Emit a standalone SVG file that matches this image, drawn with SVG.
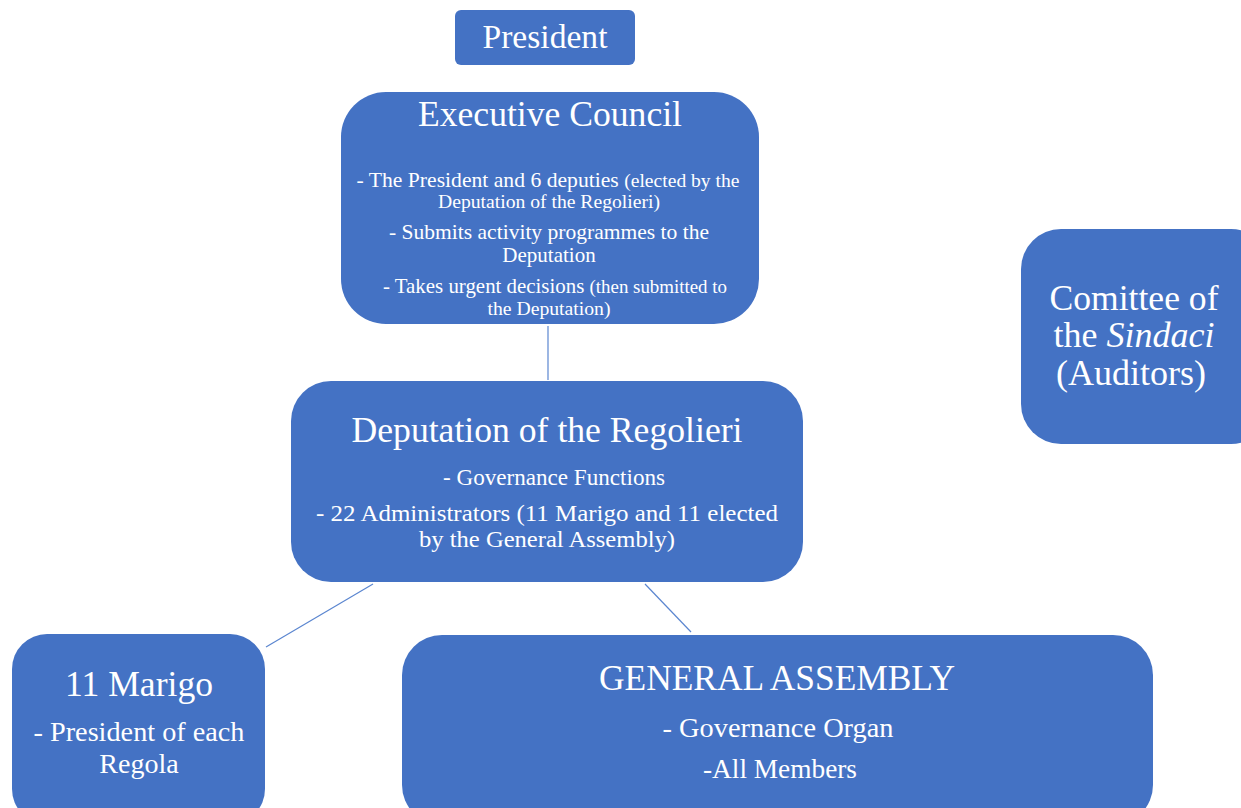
<svg xmlns="http://www.w3.org/2000/svg" width="1241" height="808" viewBox="0 0 1241 808">
<style>
.box{fill:#4472C4;}
text{font-family:"Liberation Serif","Times New Roman",serif;fill:#fff;text-anchor:middle;}
.t{font-size:36px;}
.s{font-size:21px;}
.x{font-size:19px;}
.m{font-size:24px;}
.l{font-size:28px;}
.c{stroke:#5B86D0;stroke-width:1.2;fill:none;}
</style>
<rect width="1241" height="808" fill="#fff"/>
<g id="connectors">
<line class="c" x1="548" y1="326" x2="548" y2="380"/>
<line class="c" x1="373" y1="584" x2="266" y2="647"/>
<line class="c" x1="645" y1="584" x2="691" y2="632"/>
</g>
<g id="president">
<rect class="box" x="455" y="10" width="180" height="55" rx="6"/>
<text x="545" y="48" style="font-size:33px" textLength="125" lengthAdjust="spacingAndGlyphs">President</text>
</g>
<g id="executive-council">
<rect class="box" x="341" y="92" width="418" height="232" rx="45"/>
<text class="t" x="550" y="126" textLength="264" lengthAdjust="spacingAndGlyphs">Executive Council</text>
<text class="s" x="548" y="187" textLength="383" lengthAdjust="spacingAndGlyphs">- The President and 6 deputies <tspan class="x">(elected by the</tspan></text>
<text class="x" x="549" y="208" textLength="222" lengthAdjust="spacingAndGlyphs">Deputation of the Regolieri)</text>
<text class="s" x="549" y="239" textLength="320" lengthAdjust="spacingAndGlyphs">- Submits activity  programmes to the</text>
<text class="s" x="549" y="262">Deputation</text>
<text class="s" x="555" y="293" textLength="344" lengthAdjust="spacingAndGlyphs">- Takes urgent decisions <tspan class="x">(then submitted to</tspan></text>
<text class="x" x="549" y="315" textLength="123" lengthAdjust="spacingAndGlyphs">the Deputation)</text>
</g>
<g id="deputation">
<rect class="box" x="291" y="381" width="512" height="201" rx="40"/>
<text class="t" x="547" y="442" textLength="391" lengthAdjust="spacingAndGlyphs">Deputation of the Regolieri</text>
<text class="m" x="554" y="485" textLength="222" lengthAdjust="spacingAndGlyphs">- Governance  Functions</text>
<text class="m" x="547" y="521" textLength="462" lengthAdjust="spacingAndGlyphs">- 22 Administrators  (11 Marigo and 11 elected</text>
<text class="m" x="547" y="547" textLength="256" lengthAdjust="spacingAndGlyphs">by  the  General Assembly)</text>
</g>
<g id="marigo">
<rect class="box" x="12" y="634" width="253" height="190" rx="35"/>
<text class="t" x="139" y="696" textLength="148" lengthAdjust="spacingAndGlyphs">11 Marigo</text>
<text class="l" x="139" y="741" textLength="211" lengthAdjust="spacingAndGlyphs">- President  of each</text>
<text class="l" x="139" y="773">Regola</text>
</g>
<g id="general-assembly">
<rect class="box" x="402" y="635" width="751" height="190" rx="40"/>
<text class="t" x="777" y="690" textLength="356" lengthAdjust="spacingAndGlyphs">GENERAL ASSEMBLY</text>
<text class="l" x="778" y="737" textLength="231" lengthAdjust="spacingAndGlyphs">- Governance  Organ</text>
<text class="l" x="780" y="778" textLength="154" lengthAdjust="spacingAndGlyphs">-All  Members</text>
</g>
<g id="sindaci">
<rect class="box" x="1021" y="229" width="250" height="215" rx="40"/>
<text class="t" x="1134" y="310" textLength="169" lengthAdjust="spacingAndGlyphs">Comittee of</text>
<text class="t" x="1134" y="347">the <tspan font-style="italic">Sindaci</tspan></text>
<text class="t" x="1131" y="385">(Auditors)</text>
</g>
</svg>
